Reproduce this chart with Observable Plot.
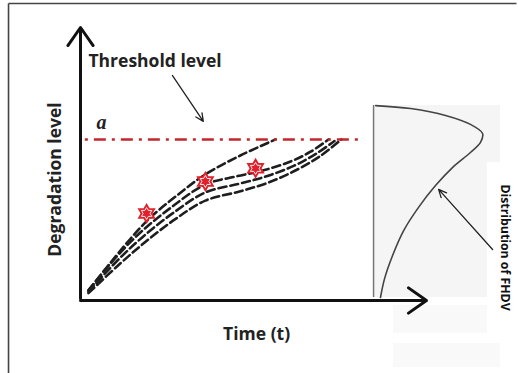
<!DOCTYPE html>
<html>
<head>
<meta charset="utf-8">
<script src="https://cdn.jsdelivr.net/npm/d3@7"></script>
<script src="https://cdn.jsdelivr.net/npm/@observablehq/plot@0.6"></script>
<style>
  html, body { margin: 0; padding: 0; background: #fff; }
  #chart svg { display: block; }
</style>
</head>
<body>
<div id="chart"></div>
<script>
// ---- Data (chart units: time t on x, degradation level on y) ----
const threshold = 5.9;
const thresholdStart = 0.14, thresholdEnd = 8.18;

// degradation paths
const pathA_t = [0.23, 0.87, 1.45, 2.02, 2.75, 3.61, 4.62, 5.64];
const pathA_L = [0.37, 1.39, 2.27, 3.04, 3.81, 4.62, 5.31, 5.90];
const pathB_t = [0.23, 1.01, 1.73, 2.60, 3.61, 4.48, 5.26, 6.07, 6.65, 7.17];
const pathB_L = [0.37, 1.56, 2.49, 3.39, 4.25, 4.54, 4.76, 5.09, 5.45, 5.90];
const pathC_t = [0.23, 1.10, 1.88, 2.75, 3.61, 4.62, 5.43, 6.24, 6.94, 7.54];
const pathC_L = [0.27, 1.30, 2.15, 2.99, 3.66, 4.00, 4.32, 4.78, 5.30, 5.90];
const pathD_t = [0.23, 1.04, 1.79, 2.66, 3.61, 4.57, 5.35, 6.16, 6.79, 7.34];
const pathD_L = [0.32, 1.43, 2.32, 3.19, 3.96, 4.27, 4.54, 4.93, 5.36, 5.84];

// inspection points (stars) and threshold crossings
const star_t = [1.91, 3.61, 5.06];
const star_L = [3.19, 4.36, 4.84];
const cross_t = [5.64, 7.17, 7.54];

// distribution of FHDV (density drawn sideways)
const dist_t = [8.53, 9.54, 10.55, 11.27, 11.62, 11.56, 11.27, 10.75, 10.26, 9.77, 9.34, 9.02, 8.79, 8.67];
const dist_L = [7.14, 7.03, 6.78, 6.45, 6.12, 5.79, 5.42, 4.87, 4.21, 3.41, 2.56, 1.65, 0.81, 0.11];
const distBase_t = 8.47;
const distTop = 7.14, distBottom = 0.11;

// labels
const labels = ["Threshold level", "a", "Degradation level", "Time (t)", "Distribution of FHDV"];

// ---- build tables ----
const paths = [];
[["A", pathA_t, pathA_L], ["B", pathB_t, pathB_L], ["C", pathC_t, pathC_L], ["D", pathD_t, pathD_L]]
  .forEach(([id, ts, ls]) => ts.forEach((t, i) => paths.push({id, t, L: ls[i]})));
const stars = star_t.map((t, i) => ({t, L: star_L[i]}));
const crosses = cross_t.map(t => ({t, L: threshold}));
const dist = dist_t.map((t, i) => ({t, L: dist_L[i]}));

// custom six-pointed star symbol
const hexagram = {
  draw(context, size) {
    const R = Math.sqrt(size / Math.PI);
    const r = R / Math.sqrt(3);
    for (let i = 0; i < 12; i++) {
      const a = -Math.PI / 2 + i * Math.PI / 6;
      const rr = i % 2 === 0 ? R : r;
      const x = rr * Math.cos(a), y = rr * Math.sin(a);
      if (i === 0) context.moveTo(x, y); else context.lineTo(x, y);
    }
    context.closePath();
  }
};

const red = "#e0202a";
const darkRed = "#c1272d";
const sans = "Open Sans, Lato, sans-serif";

const chart = Plot.plot({
  width: 518,
  height: 373,
  x: {domain: [0, 10], range: [80, 426], axis: null},
  y: {domain: [0, 10], range: [300, 27], axis: null},
  style: {background: "#fff", fontFamily: sans},
  marks: [
    // outer frame (left + top)
    Plot.link([{x1: -2.08, y1: -2.7, x2: -2.08, y2: 10.88}, {x1: -2.08, y1: 10.88, x2: 12.6, y2: 10.88}],
      {x1: "x1", y1: "y1", x2: "x2", y2: "y2", stroke: "#444", strokeWidth: 1.6}),
    // faint panel behind distribution
    Plot.rect([
      {x1: distBase_t, x2: 11.76, y1: distBottom, y2: distTop},
      {x1: 11.76, x2: 12.14, y1: 5.05, y2: distTop}
    ], {x1: "x1", x2: "x2", y1: "y1", y2: "y2", fill: "#f5f5f5"}),
    Plot.rect([
      {x1: 9.05, x2: 11.76, y1: -1.21, y2: -0.18},
      {x1: 9.05, x2: 12.14, y1: -2.45, y2: -1.58}
    ], {x1: "x1", x2: "x2", y1: "y1", y2: "y2", fill: "#f9f9f9"}),
    // distribution baseline and density curve
    Plot.ruleX([distBase_t], {y1: distBottom, y2: distTop, stroke: "#777", strokeWidth: 1.5}),
    Plot.line(dist, {x: "t", y: "L", curve: "catmull-rom", stroke: "#444", strokeWidth: 1.6}),
    // degradation paths
    Plot.line(paths, {x: "t", y: "L", z: "id", curve: "catmull-rom", stroke: "#1e1e1e",
      strokeWidth: 2.6, strokeDasharray: "8,4"}),
    // threshold line
    Plot.ruleY([threshold], {x1: thresholdStart, x2: thresholdEnd, stroke: darkRed,
      strokeWidth: 2.4, strokeDasharray: "3,6,12,6"}),
    // threshold crossings
    Plot.dot(crosses, {x: "t", y: "L", symbol: "plus", r: 4.5, fill: red}),
    // inspection stars
    Plot.dot(stars, {x: "t", y: "L", symbol: hexagram, r: 10.5, fill: red}),
    Plot.dot(stars, {x: "t", y: "L", symbol: hexagram, r: 6, fill: "none", stroke: "#fff", strokeWidth: 0.9}),
    // axes with arrow heads
    Plot.arrow([{x1: 0, y1: 0.07, x2: 0, y2: 10}, {x1: 0, y1: 0, x2: 10, y2: 0}],
      {x1: "x1", y1: "y1", x2: "x2", y2: "y2", stroke: "#111", strokeWidth: 3, headLength: 11, headAngle: 70}),
    // annotation arrows
    Plot.arrow([{x1: 2.66, y1: 8.24, x2: 3.55, y2: 6.56}, {x1: 11.91, y1: 1.87, x2: 10.35, y2: 4.07}],
      {x1: "x1", y1: "y1", x2: "x2", y2: "y2", stroke: "#222", strokeWidth: 1.3, headLength: 10, headAngle: 50}),
    // labels
    Plot.text([labels[0]], {x: 0.23, y: 8.75, text: d => d, textAnchor: "start", fontSize: 17.5, fontWeight: "bold", fill: "#222"}),
    Plot.text([labels[1]], {x: 0.46, y: 6.3, text: d => d, textAnchor: "start", lineAnchor: "bottom", fontSize: 20,
      fontWeight: "bold", fontStyle: "italic", fontFamily: "Liberation Serif, DejaVu Serif, serif", fill: "#222"}),
    Plot.text([labels[2]], {x: -0.72, y: 4.43, text: d => d, rotate: -90, fontSize: 17.5, fontWeight: "bold", fill: "#222"}),
    Plot.text([labels[3]], {x: 5.09, y: -1.25, text: d => d, fontSize: 17.5, fontWeight: "bold", fill: "#222"}),
    Plot.text([labels[4]], {x: 12.28, y: 1.94, text: d => d, rotate: 90, fontSize: 12.3, fontWeight: "bold", fill: "#111"})
  ]
});
document.getElementById("chart").appendChild(chart);
</script>
</body>
</html>
